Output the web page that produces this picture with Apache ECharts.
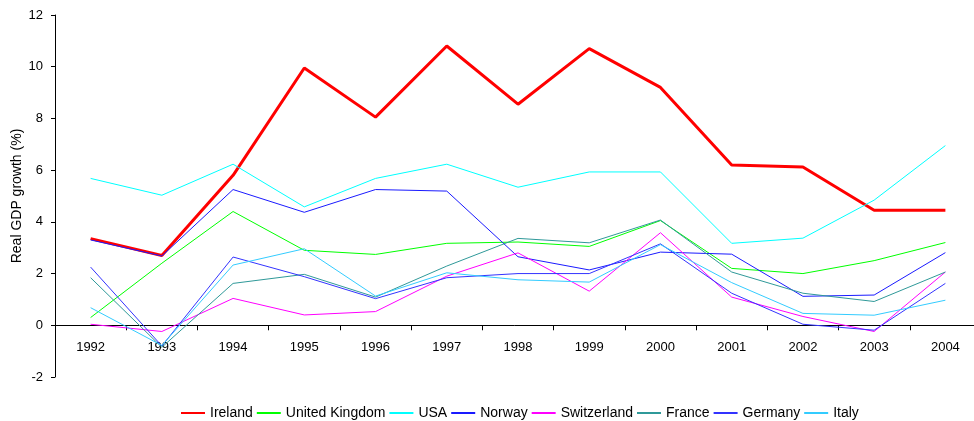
<!DOCTYPE html>
<html>
<head>
<meta charset="utf-8">
<script src="https://cdn.jsdelivr.net/npm/echarts@6/dist/echarts.min.js"></script>
<style>
  html, body { margin: 0; padding: 0; background: #fff; }
  #chart { width: 974px; height: 421px; }
</style>
</head>
<body>
<div id="chart"></div>
<script>
// years on the x axis
var years = ['1992', '1993', '1994', '1995', '1996', '1997', '1998', '1999', '2000', '2001', '2002', '2003', '2004'];

// real GDP growth (%)
var ireland     = [3.35, 2.7, 5.8, 9.95, 8.05, 10.8, 8.55, 10.7, 9.2, 6.2, 6.12, 4.45, 4.45];
var uk          = [0.3, 2.4, 4.4, 2.9, 2.74, 3.17, 3.22, 3.05, 4.05, 2.2, 2.0, 2.5, 3.2];
var usa         = [5.68, 5.03, 6.23, 4.58, 5.68, 6.23, 5.34, 5.93, 5.93, 3.17, 3.37, 4.84, 6.95];
var norway      = [3.3, 2.68, 5.25, 4.37, 5.25, 5.19, 2.65, 2.14, 2.83, 2.75, 1.12, 1.17, 2.81];
var switzerland = [0.04, -0.24, 1.04, 0.4, 0.53, 1.9, 2.8, 1.32, 3.58, 1.09, 0.34, -0.24, 2.06];
var france      = [1.84, -0.85, 1.62, 1.97, 1.09, 2.29, 3.36, 3.19, 4.07, 2.06, 1.24, 0.92, 2.06];
var germany     = [2.25, -0.8, 2.64, 1.88, 1.03, 1.84, 2.0, 2.0, 3.15, 1.24, 0.04, -0.19, 1.62];
var italy       = [0.68, -0.78, 2.33, 2.96, 1.13, 2.03, 1.76, 1.67, 3.12, 1.65, 0.46, 0.39, 0.97];

var yTicks = { min: -2, max: 12, step: 2 };

var seriesList = [
  { name: 'Ireland', data: ireland, color: '#ff0000', width: 3 },
  { name: 'United Kingdom', data: uk, color: '#00ff00', width: 1 },
  { name: 'USA', data: usa, color: '#00ffff', width: 1 },
  { name: 'Norway', data: norway, color: '#1a1aff', width: 1 },
  { name: 'Switzerland', data: switzerland, color: '#ff00ff', width: 1 },
  { name: 'France', data: france, color: '#2f9999', width: 1 },
  { name: 'Germany', data: germany, color: '#3333ff', width: 1 },
  { name: 'Italy', data: italy, color: '#33ccff', width: 1 }
];

var myChart = echarts.init(document.getElementById('chart'));
var font = '"Liberation Sans", Arial, sans-serif';

var option = {
  animation: false,
  backgroundColor: '#fff',
  textStyle: { fontFamily: font },
  grid: {
    left: 55,
    top: 15,
    width: 926,   // last category band runs past the right edge, as in the original
    height: 362,
    containLabel: false,
    outerBoundsMode: 'none'
  },
  legend: {
    left: 175,
    top: 401,
    itemWidth: 24,
    itemHeight: 14,
    itemGap: 3,
    itemStyle: { opacity: 0 },
    textStyle: { fontFamily: font, fontSize: 14, color: '#000' },
    data: seriesList.map(function (s) { return s.name; })
  },
  xAxis: {
    type: 'category',
    data: years,
    boundaryGap: true,
    axisLine: { onZero: true, lineStyle: { color: '#000', width: 1 } },
    axisTick: { show: true, length: 5, lineStyle: { color: '#000' } },
    // labels sit just under the zero line, not at the grid bottom
    axisLabel: { color: '#000', fontSize: 13, fontFamily: font, margin: -36 },
    splitLine: { show: false }
  },
  yAxis: {
    type: 'value',
    min: yTicks.min,
    max: yTicks.max,
    interval: yTicks.step,
    name: 'Real GDP growth (%)',
    nameLocation: 'middle',
    nameGap: 31,
    nameMoveOverlap: false,
    nameTextStyle: { color: '#000', fontSize: 14, fontFamily: font },
    axisLine: { show: true, lineStyle: { color: '#000', width: 1 } },
    axisTick: { show: true, length: 4, lineStyle: { color: '#000' } },
    axisLabel: { color: '#000', fontSize: 13, fontFamily: font, margin: 12 },
    splitLine: { show: false }
  },
  series: seriesList.map(function (s) {
    return {
      name: s.name,
      type: 'line',
      data: s.data,
      symbol: 'none',
      showSymbol: false,
      smooth: false,
      color: s.color,
      lineStyle: { color: s.color, width: s.width },
      itemStyle: { color: s.color }
    };
  })
};

myChart.setOption(option);
</script>
</body>
</html>
